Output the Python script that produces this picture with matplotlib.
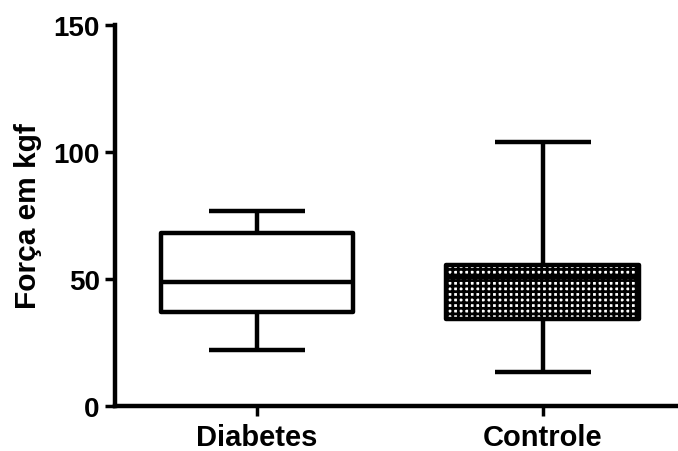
import matplotlib
matplotlib.use("Agg")
import matplotlib.pyplot as plt

# dados (min, Q1, mediana, Q3, max)
grupos = ["Diabetes", "Controle"]
minimos = [21.9, 13.5]
q1 = [37.0, 34.1]
medianas = [48.8, 50.6]
q3 = [68.3, 55.7]
maximos = [76.8, 104.0]
hachuras = [None, "+++"]

plt.rcParams["font.family"] = ["Liberation Sans", "DejaVu Sans"]
plt.rcParams["font.weight"] = "bold"
plt.rcParams["hatch.linewidth"] = 2.0
plt.rcParams["hatch.color"] = "black"

fig = plt.figure(figsize=(6.78, 4.52), dpi=100)
ax = fig.add_axes([0.1696, 0.0996, 0.829, 0.8429])

stats = []
for i, nome in enumerate(grupos):
    stats.append({
        "label": nome,
        "whislo": minimos[i],
        "q1": q1[i],
        "med": medianas[i],
        "q3": q3[i],
        "whishi": maximos[i],
        "fliers": [],
    })

lw = 3.2
bp = ax.bxp(stats, positions=[1, 2], widths=0.675, patch_artist=True,
            showfliers=False,
            boxprops=dict(linewidth=lw, edgecolor="black", facecolor="white"),
            medianprops=dict(linewidth=lw, color="black"),
            whiskerprops=dict(linewidth=lw, color="black"),
            capprops=dict(linewidth=lw, color="black"),
            capwidths=0.335)

for caixa, h in zip(bp["boxes"], hachuras):
    caixa.set_joinstyle("round")
    if h:
        caixa.set_hatch(h)
for linha in bp["medians"] + bp["caps"] + bp["whiskers"]:
    linha.set_solid_capstyle("butt")

ax.set_xlim(0.503, 2.47)
ax.set_ylim(0, 150)
ax.set_yticks([0, 50, 100, 150])
ax.set_xticks([1, 2])
ax.set_xticklabels(grupos, fontsize=21)
ax.set_ylabel("Força em kgf", fontsize=21.5, fontweight="bold", labelpad=8)

for lado in ["top", "right"]:
    ax.spines[lado].set_visible(False)
for lado in ["left", "bottom"]:
    ax.spines[lado].set_linewidth(lw)
ax.tick_params(axis="both", width=2.5, length=7, pad=4)
ax.tick_params(axis="y", labelsize=20)
ax.tick_params(axis="x", pad=5)

fig.savefig("out.png", dpi=100)
